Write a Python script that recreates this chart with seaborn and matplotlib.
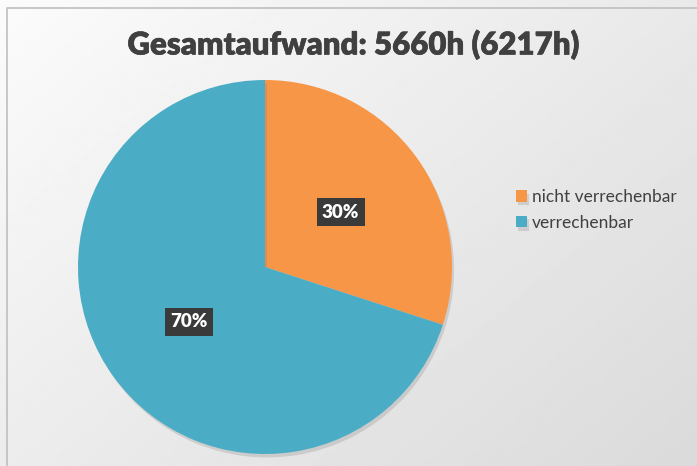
import numpy as np
import seaborn as sns
import matplotlib.pyplot as plt
import matplotlib.patheffects as pe

# data
categories = ['nicht verrechenbar', 'verrechenbar']
shares = [30, 70]
title_text = 'Gesamtaufwand: 5660h (6217h)'

sns.set_style('white')
plt.rcParams['font.family'] = ['Lato', 'DejaVu Sans']
colors = sns.color_palette(['#F79646', '#4BACC6'])
text_col = '#404040'

W, H = 697, 466
fig = plt.figure(figsize=(W / 100, H / 100), dpi=100)

# background gradient
bg = fig.add_axes([0, 0, 1, 1])
yy, xx = np.mgrid[0:1:200j, 0:1:300j]
grad = 0.985 - 0.13 * (0.55 * xx + 0.45 * yy)
bg.imshow(grad, cmap='gray', vmin=0, vmax=1, aspect='auto', extent=[0, W, H, 0])
bg.plot([7, 7, W], [H, 8, 8], color='#bfbfbf', lw=1.2)
bg.set_xlim(0, W)
bg.set_ylim(H, 0)
bg.axis('off')

# pie axes
cx, cy, r = 265, 267, 187
ax = fig.add_axes([(cx - r) / W, (H - cy - r) / H, 2 * r / W, 2 * r / H])
wedges, _, autotexts = ax.pie(
    shares, colors=colors, startangle=90, counterclock=False,
    autopct='%1.0f%%', pctdistance=0.5, radius=1,
    wedgeprops=dict(linewidth=0),
    textprops=dict(color='white', fontsize=13.5, fontweight='heavy'))
for w in wedges:
    w.set_path_effects([pe.SimplePatchShadow(offset=(1.5, -2.5), shadow_rgbFace='#808080', alpha=0.25),
                        pe.Normal()])
for t in autotexts:
    t.set_bbox(dict(boxstyle='square,pad=0.28', facecolor='#3a3a3a', edgecolor='none'))
ax.set_xlim(-1, 1)
ax.set_ylim(-1, 1)
ax.set_aspect('equal')
ax.axis('off')

fig.text(354 / W, 1 - 45 / H, title_text, ha='center', va='center',
         fontsize=22.5, fontweight='heavy', color=text_col,
         path_effects=[pe.Stroke(linewidth=0.4, foreground=text_col), pe.Normal()])

leg = fig.legend(wedges, categories, loc='center left', bbox_to_anchor=(500 / W, 1 - 210 / H),
                 frameon=False, fontsize=12.5, handlelength=0.65, handleheight=0.65,
                 handletextpad=0.3, labelspacing=0.55)
for t in leg.get_texts():
    t.set_color(text_col)

fig.savefig('out.png', dpi=100)
